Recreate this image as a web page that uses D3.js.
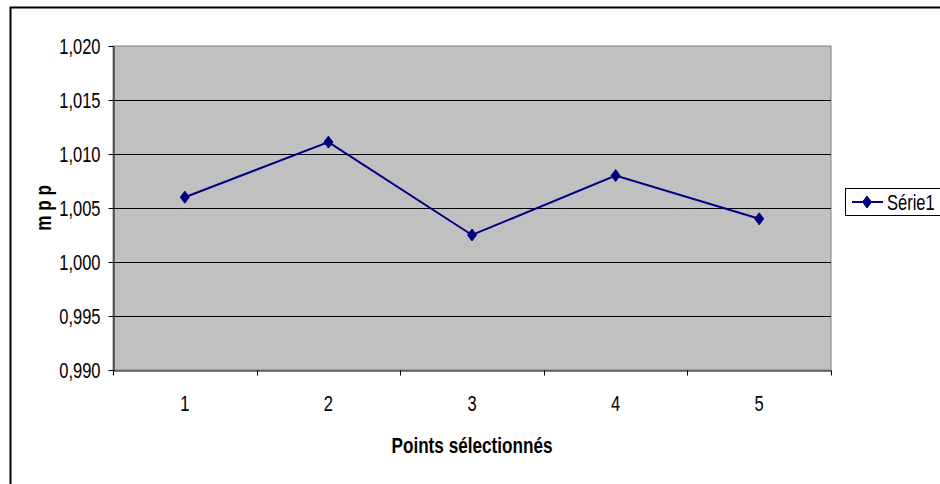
<!DOCTYPE html>
<html>
<head>
<meta charset="utf-8">
<script src="https://cdn.jsdelivr.net/npm/d3@7"></script>
<style>
  html, body { margin: 0; padding: 0; background: #fff; }
  svg { display: block; }
  text { font-family: "Liberation Sans", Arial, sans-serif; fill: #000; }
</style>
</head>
<body>
<svg id="chart" width="940" height="484"></svg>
<script>
// Selected points and their measured value
const categories = ["1", "2", "3", "4", "5"];
const seriesName = "Série1";
const values = [1.006, 1.0111, 1.0025, 1.0080, 1.0040];
const yTicks = [0.990, 0.995, 1.000, 1.005, 1.010, 1.015, 1.020];
const xTitle = "Points sélectionnés";
const yTitle = "m p p";

const W = 940, H = 484;
const plot = { left: 113, right: 831, top: 46, bottom: 370 };
const fontSize = 22;
const squeeze = 0.75;     // narrow glyphs, as in the stretched chart object
const squeezeBold = 0.78;

const svg = d3.select("#chart");

// French number format: comma as decimal separator
const fr = d3.formatLocale({ decimal: ",", thousands: " ", grouping: [3], currency: ["", " €"] });
const fmt = fr.format(".3f");

const x = d3.scaleBand().domain(categories).range([plot.left, plot.right]);
const y = d3.scaleLinear().domain([yTicks[0], yTicks[yTicks.length - 1]]).range([plot.bottom, plot.top]);

// Chart frame
svg.append("rect")
  .attr("x", 10.5).attr("y", 7.5)
  .attr("width", W + 20).attr("height", H + 20)
  .attr("fill", "#fff").attr("stroke", "#000").attr("stroke-width", 2);

// Plot area
svg.append("rect")
  .attr("x", plot.left).attr("y", plot.top)
  .attr("width", plot.right - plot.left).attr("height", plot.bottom - plot.top)
  .attr("fill", "#c0c0c0").attr("stroke", "#808080").attr("stroke-width", 1);

// Horizontal gridlines
svg.append("g")
  .selectAll("line")
  .data(yTicks.slice(1, -1))
  .join("line")
  .attr("x1", plot.left).attr("x2", plot.right)
  .attr("y1", d => Math.round(y(d)) + 0.5).attr("y2", d => Math.round(y(d)) + 0.5)
  .attr("stroke", "#000").attr("stroke-width", 1);

// Y axis
const yAxis = svg.append("g")
  .attr("transform", `translate(${plot.left + 0.5},0)`)
  .call(d3.axisLeft(y).tickValues(yTicks).tickSize(5).tickSizeOuter(0).tickPadding(8).tickFormat(fmt));
yAxis.select(".domain").attr("stroke", "#000");
yAxis.selectAll(".tick line").attr("stroke", "#000");
yAxis.selectAll(".tick text")
  .attr("font-size", fontSize)
  .attr("font-family", "'Liberation Sans', Arial, sans-serif")
  .attr("text-anchor", "end")
  .attr("dy", "0.36em")
  .each(function () {
    const t = d3.select(this);
    const xx = +t.attr("x");
    t.attr("x", null).attr("transform", `translate(${xx},0) scale(${squeeze},1)`);
  });

// X axis: labels at category centres, ticks at category boundaries
const xAxis = svg.append("g")
  .attr("transform", `translate(0,${plot.bottom + 0.5})`)
  .call(d3.axisBottom(x).tickSize(0).tickSizeOuter(0).tickPadding(25));
xAxis.select(".domain").attr("stroke", "#000");
xAxis.selectAll(".tick text")
  .attr("font-size", fontSize)
  .attr("font-family", "'Liberation Sans', Arial, sans-serif")
  .attr("transform", `scale(${squeeze},1)`)
  .attr("x", 0);
const bounds = categories.map(c => x(c)).concat([x.range()[1]]);
xAxis.append("g")
  .selectAll("line")
  .data(bounds)
  .join("line")
  .attr("x1", d => Math.round(d) + 0.5).attr("x2", d => Math.round(d) + 0.5)
  .attr("y1", 0).attr("y2", 5)
  .attr("stroke", "#000");

// Axis titles
svg.append("text")
  .attr("transform", `translate(${(plot.left + plot.right) / 2},453) scale(${squeezeBold},1)`)
  .attr("text-anchor", "middle")
  .attr("font-size", fontSize).attr("font-weight", "bold")
  .text(xTitle);

svg.append("text")
  .attr("transform", `translate(51,${(plot.top + plot.bottom) / 2}) rotate(-90) scale(${squeezeBold},1)`)
  .attr("text-anchor", "middle")
  .attr("font-size", fontSize).attr("font-weight", "bold")
  .text(yTitle);

// Series line
const lineColor = "#000080";
const pts = categories.map((c, i) => [x(c) + x.bandwidth() / 2, y(values[i])]);
svg.append("path")
  .datum(pts)
  .attr("d", d3.line())
  .attr("fill", "none").attr("stroke", lineColor).attr("stroke-width", 2);

const diamond = "M0,-6L4.5,0L0,6L-4.5,0Z";
svg.append("g")
  .selectAll("path")
  .data(pts)
  .join("path")
  .attr("transform", d => `translate(${d[0]},${d[1]})`)
  .attr("d", diamond)
  .attr("fill", lineColor).attr("stroke", lineColor).attr("stroke-width", 1);

// Legend
const lg = svg.append("g").attr("transform", "translate(845,188)");
lg.append("rect")
  .attr("x", 0.5).attr("y", 0.5).attr("width", 120).attr("height", 27)
  .attr("fill", "#fff").attr("stroke", "#000").attr("stroke-width", 1);
lg.append("line")
  .attr("x1", 7).attr("x2", 38).attr("y1", 14).attr("y2", 14)
  .attr("stroke", lineColor).attr("stroke-width", 2);
lg.append("path")
  .attr("transform", "translate(22,14)")
  .attr("d", diamond)
  .attr("fill", lineColor).attr("stroke", lineColor).attr("stroke-width", 1);
lg.append("text")
  .attr("transform", `translate(42,22) scale(${squeeze},1)`)
  .attr("font-size", fontSize)
  .text(seriesName);
</script>
</body>
</html>
